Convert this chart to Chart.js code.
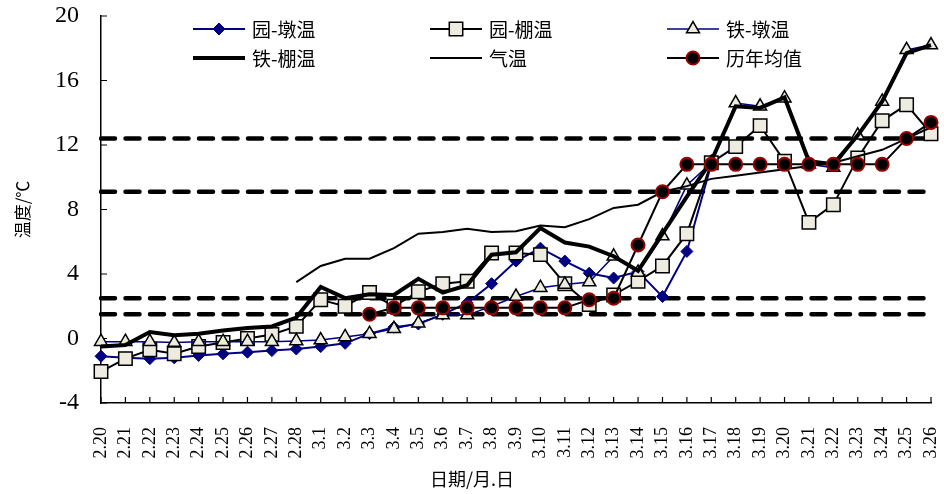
<!DOCTYPE html>
<html>
<head>
<meta charset="utf-8">
<script src="https://cdn.jsdelivr.net/npm/chart.js@4/dist/chart.umd.min.js"></script>
<style>
  body { margin: 0; background: #fff; }
  #wrap { width: 944px; height: 494px; }
</style>
</head>
<body>
<div id="wrap"><canvas id="chart" width="944" height="494"></canvas></div>
<script>
// x 轴日期
const dates = ['2.20', '2.21', '2.22', '2.23', '2.24', '2.25', '2.26', '2.27', '2.28',
  '3.1', '3.2', '3.3', '3.4', '3.5', '3.6', '3.7', '3.8', '3.9', '3.10', '3.11', '3.12', '3.13',
  '3.14', '3.15', '3.16', '3.17', '3.18', '3.19', '3.20', '3.21', '3.22', '3.23', '3.24', '3.25', '3.26'];

// 各序列温度 (℃)
const yuanDun = [-1.1, -1.2, -1.25, -1.2, -1.05, -0.95, -0.85, -0.75, -0.65, -0.5, -0.3, 0.3, 0.7, 0.9,
  1.5, 2.2, 3.4, 4.8, 5.6, 4.8, 4.05, 3.75, 4.15, 2.6, 5.4, 10.8,
  null, null, null, null, null, null, null, null, null];
const yuanPeng = [-2.05, -1.25, -0.7, -0.95, -0.5, -0.25, 0.0, 0.25, 0.75, 2.4, 2.0, 2.85, 2.0, 2.9,
  3.4, 3.55, 5.3, 5.3, 5.2, 3.4, 2.1, 2.7, 3.55, 4.5, 6.5, 10.9, 11.9, 13.2, 11.0, 7.2, 8.3, 11.2,
  13.5, 14.5, 12.7];
const tieDun = [-0.2, -0.2, -0.2, -0.25, -0.2, -0.2, -0.2, -0.2, -0.15, -0.1, 0.1, 0.3, 0.6, 0.95,
  1.45, 1.45, 2.0, 2.6, 3.15, 3.35, 3.5, 5.1, 4.1, 6.35, 9.5, 10.9, 14.6, 14.4, 14.9, 10.8, 10.6,
  12.6, 14.7, 17.9, 18.2];
const tiePeng = [-0.5, -0.4, 0.4, 0.2, 0.3, 0.5, 0.65, 0.75, 1.3, 3.2, 2.5, 2.75, 2.7, 3.7, 2.85,
  3.3, 5.2, 5.35, 6.85, 5.95, 5.7, 5.1, 4.2, 6.5, 8.8, 11.0, 14.4, 14.3, 14.95, 11.0, 10.8, 12.6,
  14.7, 17.7, 18.2];
const airTemp = [null, null, null, null, null, null, null, null, 3.5, 4.5, 4.95, 4.95, 5.6, 6.5,
  6.6, 6.8, 6.6, 6.65, 7.0, 6.9, 7.4, 8.1, 8.3, 9.1, 9.45, 9.9, 10.1, 10.3, 10.5, 10.7, 10.9, 11.3,
  11.7, 12.4, 13.1];
const avgYears = [null, null, null, null, null, null, null, null, null, null, null, 1.5, 1.9, 1.9,
  1.9, 1.9, 1.9, 1.9, 1.9, 1.9, 2.4, 2.5, 5.8, 9.1, 10.8, 10.8, 10.8, 10.8, 10.8, 10.8, 10.8, 10.8,
  10.8, 12.4, 13.4];

// 虚线参考温度
const refLevels = [12.4, 9.1, 2.5, 1.5];
// y 轴刻度
const yTicks = [-4, 0, 4, 8, 12, 16, 20];

const navy = '#000080';
const beige = '#EEECE1';
const darkRed = '#9B0000';

function lineSet(label, data, opt) {
  return Object.assign({
    label: label,
    data: data,
    tension: 0,
    fill: false,
    spanGaps: false,
    pointRadius: 0,
    pointHoverRadius: 0
  }, opt);
}

const datasets = [
  lineSet('园-墩温', yuanDun, {borderColor: navy, borderWidth: 2, pointStyle: 'rectRot', pointRadius: 6,
    pointBackgroundColor: navy, pointBorderColor: navy, pointBorderWidth: 1, order: 5}),
  lineSet('园-棚温', yuanPeng, {borderColor: '#000', borderWidth: 2, pointStyle: 'rect', pointRadius: 9.5,
    pointBackgroundColor: beige, pointBorderColor: '#000', pointBorderWidth: 1.5, order: 4}),
  lineSet('铁-墩温', tieDun, {borderColor: navy, borderWidth: 1.5, pointStyle: 'triangle', pointRadius: 7.5,
    pointBackgroundColor: beige, pointBorderColor: '#000', pointBorderWidth: 1.5, order: 3}),
  lineSet('铁-棚温', tiePeng, {borderColor: '#000', borderWidth: 4, order: 2}),
  lineSet('气温', airTemp, {borderColor: '#000', borderWidth: 2, order: 1}),
  lineSet('历年均值', avgYears, {borderColor: '#000', borderWidth: 2, pointStyle: 'circle', pointRadius: 6.5,
    pointBackgroundColor: '#000', pointBorderColor: darkRed, pointBorderWidth: 2, order: 0})
];

// 参考虚线
refLevels.forEach(function (v) {
  datasets.push(lineSet('ref' + v, dates.map(function () { return v; }), {
    borderColor: '#000', borderWidth: 4.5, borderDash: [14, 10.5], borderCapStyle: 'round', order: 10
  }));
});

function drawMarker(ctx, ds, x, y) {
  if (!ds.pointRadius) return;
  const r = ds.pointRadius;
  ctx.beginPath();
  if (ds.pointStyle === 'rectRot') {
    ctx.moveTo(x - r, y); ctx.lineTo(x, y - r); ctx.lineTo(x + r, y); ctx.lineTo(x, y + r);
  } else if (ds.pointStyle === 'rect') {
    const s = r * Math.SQRT1_2;
    ctx.rect(x - s, y - s, 2 * s, 2 * s);
  } else if (ds.pointStyle === 'triangle') {
    for (let k = 0; k < 3; k++) {
      const a = k * 2 * Math.PI / 3;
      const px = x + Math.sin(a) * r, py = y - Math.cos(a) * r;
      if (k === 0) ctx.moveTo(px, py); else ctx.lineTo(px, py);
    }
  } else {
    ctx.arc(x, y, r, 0, Math.PI * 2);
  }
  ctx.closePath();
  ctx.fillStyle = ds.pointBackgroundColor;
  ctx.fill();
  ctx.lineWidth = ds.pointBorderWidth;
  ctx.strokeStyle = ds.pointBorderColor;
  ctx.stroke();
}

// 图例: 三列两行, 画在绘图区内
const legendBox = {
  id: 'legendBox',
  afterDraw(chart) {
    const ctx = chart.ctx;
    const cols = [193, 430, 667];
    const rows = [29, 58];
    ctx.save();
    for (let i = 0; i < 6; i++) {
      const ds = chart.data.datasets[i];
      const x0 = cols[i % 3], y0 = rows[Math.floor(i / 3)];
      ctx.beginPath();
      ctx.moveTo(x0, y0);
      ctx.lineTo(x0 + 52, y0);
      ctx.strokeStyle = ds.borderColor;
      ctx.lineWidth = ds.borderWidth;
      ctx.stroke();
      drawMarker(ctx, ds, x0 + 26, y0);
      ctx.fillStyle = '#000';
      ctx.font = '19px "Noto Sans CJK SC"';
      ctx.textBaseline = 'middle';
      ctx.textAlign = 'left';
      ctx.fillText(ds.label, x0 + 59, y0 + 1);
    }
    // x 轴标题
    ctx.font = '18px "Noto Sans CJK SC"';
    ctx.textAlign = 'center';
    ctx.fillText('日期/月.日', 472, 479);
    ctx.restore();
  }
};

// 朝内的刻度线
const innerTicks = {
  id: 'innerTicks',
  beforeDatasetsDraw(chart) {
    const {ctx, chartArea, scales} = chart;
    ctx.save();
    ctx.strokeStyle = '#000';
    ctx.lineWidth = 1.2;
    ctx.beginPath();
    scales.y.ticks.forEach(function (t, i) {
      const py = scales.y.getPixelForTick(i);
      ctx.moveTo(chartArea.left, py);
      ctx.lineTo(chartArea.left + 6, py);
    });
    scales.x.ticks.forEach(function (t, i) {
      const px = scales.x.getPixelForTick(i);
      ctx.moveTo(px, chartArea.bottom);
      ctx.lineTo(px, chartArea.bottom - 6);
    });
    ctx.stroke();
    ctx.restore();
  }
};

new Chart(document.getElementById('chart'), {
  type: 'line',
  data: {labels: dates, datasets: datasets},
  options: {
    responsive: false,
    animation: false,
    events: [],
    layout: {padding: {left: 0, right: 13, top: 16, bottom: 0}},
    plugins: {legend: {display: false}, tooltip: {enabled: false}},
    scales: {
      x: {
        type: 'category',
        offset: false,
        grid: {display: false, drawTicks: false},
        border: {display: true, color: '#000', width: 1.5},
        ticks: {
          autoSkip: false, maxRotation: 90, minRotation: 90, padding: 24,
          color: '#000', font: {family: 'Liberation Serif', size: 18}
        },
        afterFit: function (s) {
          s.height = 91;
          s.paddingLeft = 0;
          s.paddingRight = 0;
        }
      },
      y: {
        min: yTicks[0],
        max: yTicks[yTicks.length - 1],
        grid: {display: false, drawTicks: false},
        border: {display: true, color: '#000', width: 1.5},
        ticks: {
          stepSize: yTicks[1] - yTicks[0], padding: 22,
          color: '#000', font: {family: 'Liberation Serif', size: 24}
        },
        title: {
          display: true, text: '温度/℃', color: '#000',
          font: {family: 'Noto Sans CJK SC', size: 17}, padding: {top: 12, bottom: 0}
        },
        afterFit: function (s) {
          s.width = 101;
          s.paddingTop = 0;
          s.paddingBottom = 0;
        }
      }
    }
  },
  plugins: [innerTicks, legendBox]
});
</script>
</body>
</html>
